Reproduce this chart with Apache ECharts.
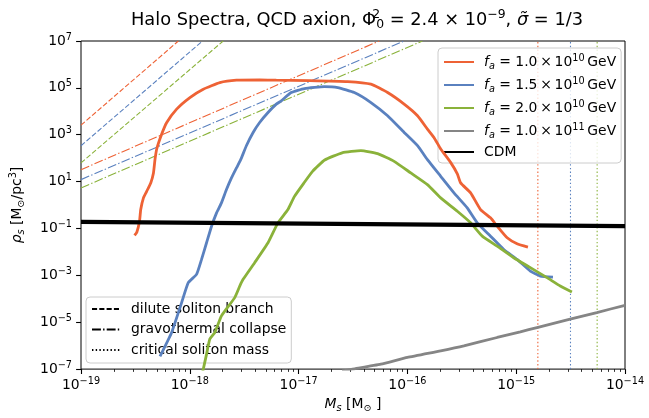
<!DOCTYPE html>
<html>
<head>
<meta charset="utf-8">
<script src="https://cdn.jsdelivr.net/npm/echarts@6/dist/echarts.min.js"></script>
<style>
  html, body { margin: 0; padding: 0; background: #ffffff; }
  #chart { width: 649px; height: 418px; }
</style>
</head>
<body>
<div id="chart"></div>
<script>
// Halo spectra: log10 of soliton mass M_s [M_sun] and density rho_s [M_sun/pc^3]
const redLogM = [-18.508, -18.487, -18.462, -18.451, -18.426, -18.396, -18.359, -18.334, -18.320, -18.304,
  -18.258, -18.212, -18.121, -17.999, -17.876, -17.724, -17.571, -17.358, -17.205, -16.900, -16.549, -16.335,
  -16.182, -16.030, -15.907, -15.816, -15.756, -15.694, -15.603, -15.541, -15.511, -15.419, -15.328, -15.236,
  -15.175, -15.083, -14.992, -14.892];
const redLogRho = [-1.298, -1.157, -0.689, -0.191, 0.306, 0.587, 0.945, 1.370, 1.936, 2.391,
  3.030, 3.523, 4.094, 4.587, 4.945, 5.226, 5.328, 5.340, 5.328, 5.310, 5.268, 5.157,
  4.800, 4.306, 3.809, 3.243, 2.885, 2.391, 1.821, 1.328, 0.945, 0.519, -0.191, -0.545,
  -0.902, -1.396, -1.651, -1.796];

const blueLogM = [-18.274, -18.167, -18.075, -18.014, -17.938, -17.892, -17.846, -17.800, -17.754, -17.709,
  -17.663, -17.617, -17.571, -17.532, -17.480, -17.418, -17.358, -17.281, -17.205, -17.159, -17.068, -16.946,
  -16.763, -16.640, -16.488, -16.335, -16.182, -16.030, -15.907, -15.816, -15.694, -15.572, -15.450, -15.358,
  -15.236, -15.114, -14.992, -14.870, -14.778, -14.662];
const blueLogRho = [-6.460, -5.438, -4.162, -3.311, -2.957, -2.319, -1.609, -0.902, -0.332, 0.094,
  0.660, 1.157, 1.583, 1.936, 2.532, 3.098, 3.523, 3.949, 4.306, 4.447, 4.800, 4.970,
  5.055, 5.013, 4.800, 4.374, 3.809, 3.098, 2.532, 1.936, 1.226, 0.519, -0.119, -0.757,
  -1.328, -1.894, -2.319, -2.817, -3.030, -3.072];

const greenLogM = [-17.890, -17.846, -17.816, -17.770, -17.709, -17.587, -17.540, -17.510, -17.404, -17.281,
  -17.190, -17.098, -17.038, -16.950, -16.870, -16.760, -16.600, -16.427, -16.274, -16.122, -15.969, -15.816,
  -15.694, -15.541, -15.419, -15.312, -15.175, -15.023, -14.870, -14.717, -14.595, -14.488];
const greenLogRho = [-7.300, -6.360, -5.720, -5.440, -4.730, -3.950, -3.450, -3.170, -2.460, -1.610,
  -0.760, -0.190, 0.370, 0.950, 1.450, 1.920, 2.230, 2.319, 2.191, 1.864, 1.370, 0.872,
  0.306, -0.264, -0.757, -1.328, -1.753, -2.247, -2.672, -3.098, -3.455, -3.711];

const grayLogM = [-16.600, -16.503, -16.244, -16.000, -15.694, -15.481, -15.175, -14.962, -14.809, -14.504, -14.259, -14.000];
const grayLogRho = [-7.080, -7.000, -6.787, -6.502, -6.221, -6.009, -5.651, -5.413, -5.226, -4.872, -4.587, -4.277];

// CDM reference density, end points
const cdmLogM = [-19, -14];
const cdmLogRho = [-0.715, -0.900];

// Dilute soliton branch (dashed) and gravothermal collapse (dash-dot): [startLogM, startLogRho, endLogM, endLogRho]
const diluteEnds = [
  [-19, 3.41, -18.105, 7],
  [-19, 2.53, -17.883, 7],
  [-19, 1.80, -17.693, 7]
];
const collapseEnds = [
  [-19, 1.51, -16.259, 7],
  [-19, 1.085, -16.030, 7],
  [-19, 0.73, -15.862, 7]
];
// Critical soliton mass, log10 M_s
const criticalLogM = [-14.801, -14.501, -14.256];

const colors = ['#EE6235', '#5A81BF', '#8AB23A', '#858585'];
const faNames = ['fa1.0e10', 'fa1.5e10', 'fa2.0e10', 'fa1.0e11'];
const faLabels = [
  '{i|f}{isub|a}{n| = 1.0\u2009×\u200910}{sup|10}{n|\u2009GeV}',
  '{i|f}{isub|a}{n| = 1.5\u2009×\u200910}{sup|10}{n|\u2009GeV}',
  '{i|f}{isub|a}{n| = 2.0\u2009×\u200910}{sup|10}{n|\u2009GeV}',
  '{i|f}{isub|a}{n| = 1.0\u2009×\u200910}{sup|11}{n|\u2009GeV}'
];
const styleNames = ['dilute soliton branch', 'gravothermal collapse', 'critical soliton mass'];

const P = v => Math.pow(10, v);
const pairs = (lx, ly) => lx.map((x, i) => [P(x), P(ly[i])]);

const DASH = [5.1, 2.2];
const DASHDOT = [8.9, 2.2, 1.4, 2.2];
const DOT = [1.4, 2.3];
const FONT = 'DejaVu Sans';
const FS = 13.9;
const TFS = 17.8;

const richBase = {
  n: { fontFamily: FONT, fontSize: FS, lineHeight: 18, verticalAlign: 'middle', color: '#000' },
  i: { fontFamily: FONT, fontSize: FS, lineHeight: 18, verticalAlign: 'middle', fontStyle: 'italic', color: '#000' },
  sup: { fontFamily: FONT, fontSize: 9.7, lineHeight: 5, verticalAlign: 'top', color: '#000' },
  sub: { fontFamily: FONT, fontSize: 9.7, lineHeight: 10, verticalAlign: 'bottom', color: '#000' },
  isub: { fontFamily: FONT, fontSize: 9.7, lineHeight: 10, verticalAlign: 'bottom', fontStyle: 'italic', color: '#000' }
};

const series = [];
// main spectra
[[redLogM, redLogRho], [blueLogM, blueLogRho], [greenLogM, greenLogRho], [grayLogM, grayLogRho]].forEach((d, k) => {
  series.push({
    name: faNames[k], type: 'line', data: pairs(d[0], d[1]), symbol: 'none', smooth: 0.15,
    lineStyle: { color: colors[k], width: 2.8 }, itemStyle: { color: colors[k] }, z: 5
  });
});
series.push({
  name: 'CDM', type: 'line', data: pairs(cdmLogM, cdmLogRho), symbol: 'none',
  lineStyle: { color: '#000', width: 4.2 }, itemStyle: { color: '#000' }, z: 6
});
diluteEnds.forEach((e, k) => {
  series.push({
    name: 'dilute-' + k, type: 'line', data: [[P(e[0]), P(e[1])], [P(e[2]), P(e[3])]], symbol: 'none',
    lineStyle: { color: colors[k], width: 1.1, type: DASH }, z: 3
  });
});
collapseEnds.forEach((e, k) => {
  series.push({
    name: 'collapse-' + k, type: 'line', data: [[P(e[0]), P(e[1])], [P(e[2]), P(e[3])]], symbol: 'none',
    lineStyle: { color: colors[k], width: 1.1, type: DASHDOT }, z: 3
  });
});
criticalLogM.forEach((m, k) => {
  series.push({
    name: 'critical-' + k, type: 'line', data: [[P(m), 1e-7], [P(m), 1e7]], symbol: 'none',
    lineStyle: { color: colors[k], width: 1.1, type: DOT }, z: 3
  });
});
[DASH, DASHDOT, DOT].forEach((t, k) => {
  series.push({
    name: styleNames[k], type: 'line', data: [], symbol: 'none',
    lineStyle: { color: '#000', width: 1.4, type: t }, itemStyle: { color: '#000' }
  });
});

// minor tick positions on the mass axis
const minorX = [];
for (let e = -19; e < -14; e++) for (let m = 2; m <= 9; m++) minorX.push(m * P(e));

const expLabel = v => {
  const e = Math.round(Math.log10(v));
  return '{n|10}{sup|' + (e < 0 ? '\u2212' + (-e) : e) + '}';
};

const chart = echarts.init(document.getElementById('chart'), null, { renderer: 'canvas' });
chart.setOption({
  animation: false,
  backgroundColor: '#ffffff',
  textStyle: { fontFamily: FONT },
  title: {
    left: 352, top: 4, textAlign: 'center',
    text: '{n|Halo Spectra, QCD axion, Φ}{sp|2}{sb|0}{n| = 2.4 × 10}{sup|\u22129}{n|, }{i|σ\u0303}{n| = 1/3}',
    textStyle: {
      fontWeight: 'normal',
      rich: {
        n: { fontFamily: FONT, fontSize: TFS, fontWeight: 'normal', lineHeight: 22, verticalAlign: 'middle', color: '#000' },
        i: { fontFamily: FONT, fontSize: TFS, fontWeight: 'normal', lineHeight: 22, verticalAlign: 'middle', fontStyle: 'italic', color: '#000' },
        sup: { fontFamily: FONT, fontSize: 12.4, fontWeight: 'normal', lineHeight: 5, verticalAlign: 'top', color: '#000' },
        sp: { fontFamily: FONT, fontSize: 12.4, fontWeight: 'normal', lineHeight: 5, verticalAlign: 'top', width: 0.1, color: '#000' },
        sb: { fontFamily: FONT, fontSize: 12.4, fontWeight: 'normal', lineHeight: 12, verticalAlign: 'bottom', color: '#000' }
      }
    }
  },
  grid: { left: 79, right: 24, top: 41, bottom: 48, show: true, borderColor: '#000', borderWidth: 1, containLabel: false },
  legend: [
    {
      data: faNames.concat(['CDM']),
      orient: 'vertical', left: 438, top: 48,
      itemWidth: 30, itemHeight: 14, itemGap: 5,
      padding: [5, 5, 4, 5],
      itemStyle: { opacity: 0 },
      backgroundColor: 'rgba(255,255,255,0.8)', borderColor: '#cccccc', borderWidth: 1, borderRadius: 4,
      formatter: name => {
        const k = faNames.indexOf(name);
        return k >= 0 ? faLabels[k] : '{n|CDM}';
      },
      textStyle: { padding: [0, 0, 0, 5], rich: richBase }
    },
    {
      data: styleNames,
      orient: 'vertical', left: 86, top: 297,
      itemWidth: 28, itemHeight: 14, itemGap: 4.5,
      padding: [4, 5, 5, 5],
      itemStyle: { opacity: 0 },
      backgroundColor: 'rgba(255,255,255,0.8)', borderColor: '#cccccc', borderWidth: 1, borderRadius: 4,
      textStyle: { fontFamily: FONT, fontSize: FS, color: '#000', lineHeight: 16, padding: [0, 0, 0, 6] }
    }
  ],
  xAxis: [
    {
      type: 'log', logBase: 10, min: 1e-19, max: 1e-14, interval: 1,
      name: '{i|M}{isub|s}{n| [M}{sub|⊙}{n| ]}', nameLocation: 'middle', nameGap: 22,
      nameTextStyle: { rich: richBase },
      axisLine: { show: false },
      axisTick: { show: true, length: 4.9, lineStyle: { color: '#000', width: 1.1 } },
      axisLabel: { color: '#000', margin: 7, formatter: expLabel, rich: richBase },
      splitLine: { show: false }, minorTick: { show: false }
    },
    {
      type: 'log', logBase: 10, min: 1e-19, max: 1e-14, position: 'bottom', gridIndex: 0,
      axisLine: { show: false },
      axisTick: { show: true, length: 2.8, customValues: minorX, lineStyle: { color: '#000', width: 0.8 } },
      axisLabel: { show: false }, splitLine: { show: false }
    }
  ],
  yAxis: {
    type: 'log', logBase: 10, min: 1e-7, max: 1e7, interval: 2,
    name: '{i|ρ}{isub|s}{n| [M}{sub|⊙}{n|/pc}{sup|3}{n|]}', nameLocation: 'middle', nameGap: 55, nameRotate: 90,
    nameTextStyle: { rich: richBase },
    axisLine: { show: false },
    axisTick: { show: true, length: 4.9, lineStyle: { color: '#000', width: 1.1 } },
    axisLabel: { color: '#000', margin: 9, formatter: expLabel, rich: richBase },
    splitLine: { show: false }
  },
  series: series
});
</script>
</body>
</html>
